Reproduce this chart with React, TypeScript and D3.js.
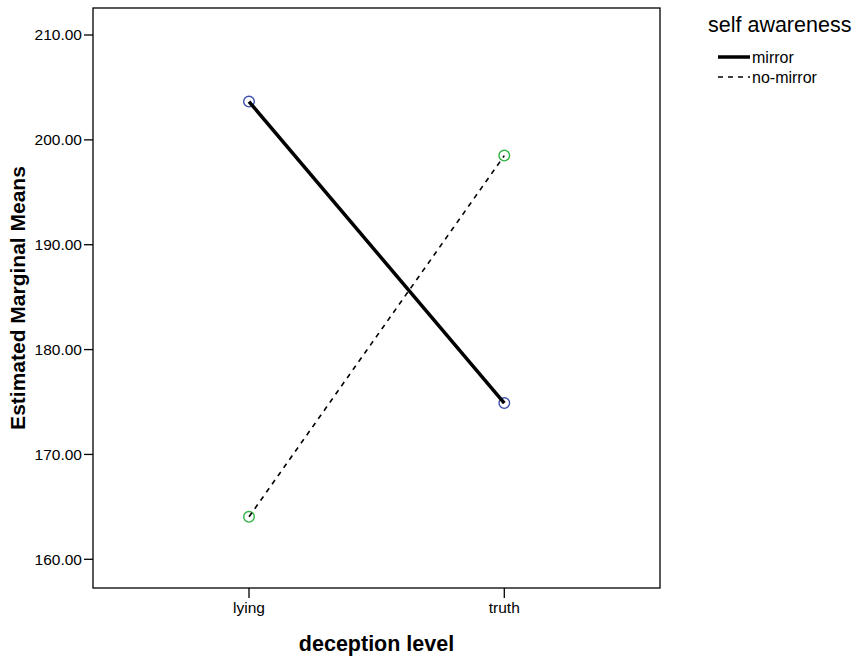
import React from "react";
import * as d3 from "d3";

const categories = ["lying", "truth"];
const mirrorValues = [203.65, 174.9];
const noMirrorValues = [164.05, 198.5];
const yTicks = [160, 170, 180, 190, 200, 210];
const seriesNames = ["mirror", "no-mirror"];

const W = 857;
const H = 658;
const plot = { left: 93, right: 660, top: 8, bottom: 588 };

export default function App() {
  const y = d3
    .scaleLinear()
    .domain([160, 210])
    .range([559.3, 35]);
  const x = d3
    .scalePoint<string>()
    .domain(categories)
    .range([249, 504.3]);

  const line = d3
    .line<number>()
    .x((_, i) => x(categories[i])!)
    .y((d) => y(d));

  const font = "'Liberation Sans', Arial, Helvetica, sans-serif";

  return (
    <svg
      width={W}
      height={H}
      style={{ position: "absolute", left: 0, top: 0, display: "block", background: "#fff" }}
      fontFamily={font}
    >
      <rect x={0} y={0} width={W} height={H} fill="#fff" />
      <rect
        x={plot.left}
        y={plot.top}
        width={plot.right - plot.left}
        height={plot.bottom - plot.top}
        fill="none"
        stroke="#000"
        strokeWidth={1.3}
      />
      {yTicks.map((t) => (
        <g key={t}>
          <line x1={plot.left - 9} x2={plot.left} y1={y(t)} y2={y(t)} stroke="#000" strokeWidth={1.3} />
          <text x={plot.left - 11} y={y(t)} dy="0.35em" textAnchor="end" fontSize={15.5} fill="#000">
            {t.toFixed(2)}
          </text>
        </g>
      ))}
      {categories.map((c) => (
        <g key={c}>
          <line x1={x(c)} x2={x(c)} y1={plot.bottom} y2={plot.bottom + 10} stroke="#000" strokeWidth={1.3} />
          <text x={x(c)} y={plot.bottom + 25} textAnchor="middle" fontSize={15.5} fill="#000">
            {c}
          </text>
        </g>
      ))}
      {mirrorValues.map((v, i) => (
        <circle key={"m" + i} cx={x(categories[i])} cy={y(v)} r={5.3} fill="none" stroke="#3d4fb0" strokeWidth={1.4} />
      ))}
      {noMirrorValues.map((v, i) => (
        <circle key={"n" + i} cx={x(categories[i])} cy={y(v)} r={5.3} fill="none" stroke="#2fb344" strokeWidth={1.4} />
      ))}
      <path d={line(mirrorValues)!} fill="none" stroke="#000" strokeWidth={3.5} />
      <path d={line(noMirrorValues)!} fill="none" stroke="#000" strokeWidth={1.6} strokeDasharray="5,5" />
      <text
        transform={`translate(25,${(plot.top + plot.bottom) / 2}) rotate(-90)`}
        textAnchor="middle"
        fontSize={21}
        fontWeight="bold"
        fill="#000"
      >
        Estimated Marginal Means
      </text>
      <text x={(plot.left + plot.right) / 2} y={651} textAnchor="middle" fontSize={21.5} fontWeight="bold" fill="#000">
        deception level
      </text>
      <text x={708} y={32} fontSize={21.5} fill="#000">
        self awareness
      </text>
      <line x1={718} x2={750} y1={57} y2={57} stroke="#000" strokeWidth={3.5} />
      <text x={752} y={63} fontSize={16} fill="#000">
        {seriesNames[0]}
      </text>
      <line x1={718} x2={750} y1={77} y2={77} stroke="#000" strokeWidth={1.6} strokeDasharray="5,5" />
      <text x={752} y={83} fontSize={16} fill="#000">
        {seriesNames[1]}
      </text>
    </svg>
  );
}
